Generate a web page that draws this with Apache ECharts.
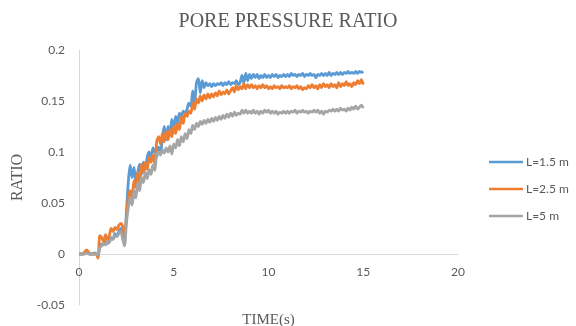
<!DOCTYPE html>
<html>
<head>
<meta charset="utf-8">
<script src="https://cdn.jsdelivr.net/npm/echarts@6/dist/echarts.min.js"></script>
<style>html,body{margin:0;padding:0;background:#fff;}#c{width:576px;height:326px;}</style>
</head>
<body>
<div id="c"></div>
<script>
const TITLE = 'PORE PRESSURE RATIO';
const X_NAME = 'TIME(s)';
const Y_NAME = 'RATIO';
const SERIES_NAMES = ['L=1.5 m', 'L=2.5 m', 'L=5 m'];
const X_TICKS = [0, 5, 10, 15, 20];
const Y_TICKS = [-0.05, 0, 0.05, 0.1, 0.15, 0.2];

const TIME = [
0.0,0.1,0.2,0.3,0.4,0.5,0.6,0.7,0.8,0.9,
1.0,1.1,1.2,1.3,1.4,1.5,1.6,1.7,1.8,1.9,
2.0,2.1,2.2,2.3,2.4,2.5,2.6,2.7,2.8,2.9,
3.0,3.1,3.2,3.3,3.4,3.5,3.6,3.7,3.8,3.9,
4.0,4.1,4.2,4.3,4.4,4.5,4.6,4.7,4.8,4.9,
5.0,5.1,5.2,5.3,5.4,5.5,5.6,5.7,5.8,5.9,
6.0,6.1,6.2,6.3,6.4,6.5,6.6,6.7,6.8,6.9,
7.0,7.1,7.2,7.3,7.4,7.5,7.6,7.7,7.8,7.9,
8.0,8.1,8.2,8.3,8.4,8.5,8.6,8.7,8.8,8.9,
9.0,9.1,9.2,9.3,9.4,9.5,9.6,9.7,9.8,9.9,
10.0,10.1,10.2,10.3,10.4,10.5,10.6,10.7,10.8,10.9,
11.0,11.1,11.2,11.3,11.4,11.5,11.6,11.7,11.8,11.9,
12.0,12.1,12.2,12.3,12.4,12.5,12.6,12.7,12.8,12.9,
13.0,13.1,13.2,13.3,13.4,13.5,13.6,13.7,13.8,13.9,
14.0,14.1,14.2,14.3,14.4,14.5,14.6,14.7,14.8,14.9,
15.0
];

const L15 = [
0,0,0,0.001,0.002,0.001,0,0,0.001,0,
-0.002,0.008,0.01,0.009,0.012,0.01,0.014,0.016,0.015,0.02,
0.018,0.022,0.025,0.02,0.012,0.04,0.07,0.087,0.075,0.085,
0.07,0.08,0.088,0.078,0.09,0.083,0.095,0.1,0.092,0.104,
0.1,0.095,0.105,0.098,0.115,0.125,0.112,0.125,0.118,0.132,
0.122,0.135,0.128,0.138,0.135,0.14,0.138,0.142,0.148,0.145,
0.16,0.148,0.168,0.172,0.158,0.17,0.163,0.168,0.165,0.167,
0.164,0.167,0.165,0.167,0.166,0.168,0.165,0.168,0.166,0.169,
0.166,0.168,0.167,0.17,0.166,0.168,0.175,0.168,0.177,0.17,
0.176,0.172,0.176,0.173,0.176,0.172,0.175,0.173,0.176,0.173,
0.175,0.173,0.176,0.174,0.176,0.173,0.175,0.174,0.176,0.174,
0.176,0.174,0.177,0.175,0.176,0.174,0.176,0.175,0.177,0.174,
0.176,0.175,0.177,0.175,0.176,0.173,0.176,0.175,0.177,0.175,
0.177,0.175,0.178,0.175,0.177,0.176,0.178,0.176,0.178,0.176,
0.178,0.177,0.179,0.177,0.178,0.177,0.179,0.177,0.179,0.178,
0.179
];

const L25 = [
0,0,0,0.002,0.004,0.002,0,0,0,0,
-0.004,0.018,0.016,0.012,0.019,0.014,0.018,0.025,0.022,0.026,
0.024,0.028,0.03,0.027,0.018,0.035,0.055,0.062,0.055,0.072,
0.065,0.08,0.07,0.088,0.08,0.09,0.083,0.095,0.09,0.097,
0.088,0.11,0.115,0.108,0.118,0.11,0.12,0.112,0.122,0.115,
0.125,0.118,0.128,0.122,0.135,0.128,0.138,0.135,0.14,0.138,
0.148,0.142,0.152,0.148,0.155,0.15,0.156,0.152,0.157,0.153,
0.157,0.154,0.158,0.155,0.16,0.156,0.159,0.157,0.161,0.157,
0.16,0.163,0.159,0.165,0.161,0.164,0.162,0.167,0.162,0.166,
0.163,0.166,0.163,0.165,0.162,0.165,0.163,0.166,0.163,0.165,
0.162,0.164,0.162,0.165,0.163,0.164,0.162,0.165,0.163,0.164,
0.163,0.165,0.162,0.164,0.163,0.165,0.162,0.164,0.161,0.163,
0.162,0.165,0.163,0.166,0.163,0.165,0.162,0.166,0.163,0.167,
0.164,0.166,0.163,0.167,0.164,0.166,0.163,0.168,0.164,0.167,
0.165,0.169,0.165,0.167,0.164,0.168,0.166,0.17,0.167,0.171,
0.166
];

const L5 = [
0,0,0,0,0.001,0,0,0,0,0,
-0.001,0.006,0.008,0.01,0.009,0.012,0.011,0.015,0.014,0.018,
0.017,0.02,0.022,0.015,0.008,0.03,0.045,0.055,0.048,0.062,
0.055,0.07,0.062,0.075,0.07,0.08,0.074,0.083,0.078,0.087,
0.082,0.098,0.1,0.097,0.102,0.099,0.104,0.1,0.106,0.098,
0.108,0.104,0.112,0.106,0.115,0.11,0.118,0.113,0.122,0.118,
0.126,0.122,0.128,0.125,0.13,0.127,0.131,0.128,0.132,0.129,
0.133,0.13,0.134,0.131,0.135,0.132,0.136,0.133,0.137,0.134,
0.138,0.135,0.139,0.136,0.138,0.137,0.141,0.138,0.141,0.138,
0.14,0.138,0.141,0.138,0.14,0.137,0.14,0.138,0.141,0.139,
0.141,0.138,0.14,0.138,0.14,0.137,0.139,0.138,0.14,0.138,
0.14,0.138,0.14,0.139,0.141,0.138,0.14,0.139,0.141,0.139,
0.14,0.138,0.14,0.139,0.141,0.139,0.141,0.138,0.14,0.137,
0.14,0.139,0.141,0.14,0.142,0.14,0.142,0.14,0.143,0.141,
0.142,0.14,0.143,0.141,0.144,0.142,0.145,0.142,0.144,0.146,
0.143
];

const COLORS = ['#5B9BD5', '#ED7D31', '#A5A5A5'];
const VALUES = [L15, L25, L5];

const chart = echarts.init(document.getElementById('c'), null, {renderer: 'canvas'});
const txt = '#595959';
const font = 'Lato, "Open Sans", sans-serif';
const serif = '"Liberation Serif", "DejaVu Serif", serif';

chart.setOption({
  animation: false,
  backgroundColor: '#fff',
  title: {
    text: TITLE, left: 'center', top: 7,
    textStyle: {fontFamily: serif, fontSize: 20, fontWeight: 'normal', color: txt}
  },
  legend: {
    orient: 'vertical', left: 484, top: 151,
    itemWidth: 34, itemHeight: 14, itemGap: 15,
    icon: 'path://M0,6 L34,6 L34,8.5 L0,8.5 Z',
    data: SERIES_NAMES,
    textStyle: {fontFamily: font, fontSize: 12, color: txt, padding: [0,0,0,-2]}
  },
  grid: {left: 79, right: 118, top: 50, bottom: 21, containLabel: false, outerBoundsMode: 'none'},
  xAxis: {
    type: 'value', min: X_TICKS[0], max: X_TICKS[X_TICKS.length-1], interval: 5,
    position: 'bottom', offset: -51,
    name: X_NAME, nameLocation: 'middle', nameGap: 59,
    nameTextStyle: {fontFamily: serif, fontSize: 15, color: txt},
    axisLine: {onZero: false, lineStyle: {color: '#D9D9D9', width: 1}},
    axisTick: {show: false},
    axisLabel: {fontFamily: font, fontSize: 12, color: txt, margin: 12},
    splitLine: {show: false}
  },
  yAxis: {
    type: 'value', min: Y_TICKS[0], max: Y_TICKS[Y_TICKS.length-1], interval: 0.05,
    name: Y_NAME, nameLocation: 'middle', nameGap: 50, nameRotate: 90,
    nameTextStyle: {fontFamily: serif, fontSize: 16, color: txt},
    axisLine: {show: true, onZero: false, lineStyle: {color: '#D9D9D9', width: 1}},
    axisTick: {show: false},
    axisLabel: {fontFamily: font, fontSize: 12, color: txt, margin: 14},
    splitLine: {show: false}
  },
  series: SERIES_NAMES.map((n, i) => ({
    name: n, type: 'line', symbol: 'none', smooth: 0.3,
    lineStyle: {color: COLORS[i], width: 2.8},
    itemStyle: {color: COLORS[i]},
    data: TIME.map((t, k) => [t, VALUES[i][k]])
  }))
});
</script>
</body>
</html>
